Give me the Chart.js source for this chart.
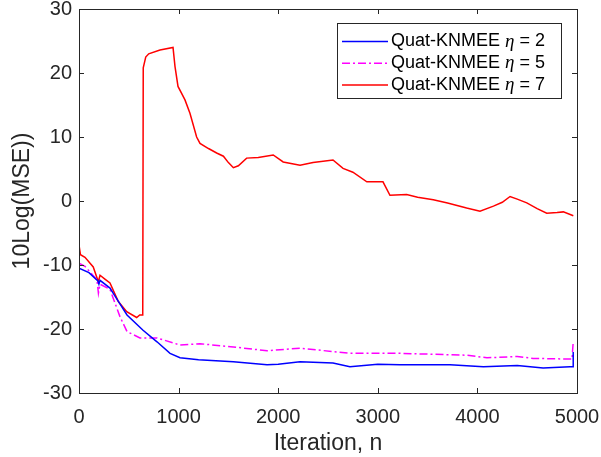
<!DOCTYPE html>
<html>
<head>
<meta charset="utf-8">
<script src="https://cdn.jsdelivr.net/npm/chart.js@4"></script>
<style>
  html, body { margin: 0; padding: 0; background: #fff; }
  #wrap { width: 601px; height: 457px; }
</style>
</head>
<body>
<div id="wrap"><canvas id="myChart" width="601" height="457"></canvas></div>
<script>
// values (iteration, 10log(MSE))
const iterEta2 = [0, 100, 190, 200, 211, 311, 400, 482, 643, 783, 914, 1014, 1200, 1550, 1888, 2000, 2219, 2550, 2720, 3000, 3223, 3725, 4060, 4400, 4660, 4930, 4960, 4962];
const mseEta2  = [-10.5, -11.2, -12.5, -13.0, -12.4, -13.6, -15.8, -17.8, -20.2, -22.0, -23.8, -24.5, -24.8, -25.1, -25.6, -25.5, -25.1, -25.3, -25.9, -25.5, -25.6, -25.6, -25.9, -25.7, -26.1, -25.9, -25.9, -23.6];

const iterEta5 = [0, 60, 180, 195, 211, 311, 412, 482, 612, 783, 1014, 1215, 1550, 1888, 2219, 2720, 3223, 3892, 4096, 4400, 4560, 4950, 4962];
const mseEta5  = [-9.7, -10.2, -12.3, -14.4, -13.0, -13.8, -18.1, -20.4, -21.4, -21.4, -22.5, -22.3, -22.8, -23.4, -23.0, -23.8, -23.8, -24.1, -24.5, -24.3, -24.6, -24.7, -22.0];

const iterEta7 = [0, 15, 60, 143, 194, 211, 260, 311, 395, 479, 579, 610, 640, 645, 670, 700, 813, 944, 964, 994, 1064, 1114, 1181, 1215, 1300, 1382, 1450, 1500, 1550, 1600, 1683, 1800, 1950, 2050, 2219, 2350, 2550, 2651, 2750, 2890, 3052, 3122, 3290, 3400, 3557, 3700, 3892, 4026, 4161, 4250, 4328, 4400, 4496, 4600, 4696, 4800, 4863, 4963];
const mseEta7  = [-6.9, -8.4, -8.8, -10.3, -12.6, -11.6, -12.2, -12.8, -15.7, -17.3, -18.2, -17.8, -17.8, 20.8, 22.5, 23.0, 23.6, 24.0, 21.0, 17.9, 15.8, 13.7, 10.0, 9.0, 8.2, 7.5, 7.0, 6.0, 5.2, 5.5, 6.7, 6.8, 7.2, 6.1, 5.6, 6.0, 6.4, 5.1, 4.5, 3.0, 3.0, 0.9, 1.0, 0.6, 0.2, -0.3, -1.1, -1.6, -0.8, -0.2, 0.7, 0.3, -0.3, -1.2, -1.9, -1.8, -1.7, -2.3];

const seriesNames = ['Quat-KNMEE', 'Quat-KNMEE', 'Quat-KNMEE'];
const etaValues = ['2', '5', '7'];
const seriesColors = ['#0000ff', '#ff00ff', '#ff0000'];
const seriesDash = [[], [8, 3, 2, 3], []];

const xTicks = [0, 1000, 2000, 3000, 4000, 5000];
const yTicks = [-30, -20, -10, 0, 10, 20, 30];

const axisColor = '#262626';
const fontFam = '"Liberation Sans", Arial, sans-serif';

function pairs(xs, ys) {
  return xs.map(function(x, i) { return {x: x, y: ys[i]}; });
}

// inward ticks on all four sides + box + legend, MATLAB style
const boxPlugin = {
  id: 'box',
  afterDraw: function(chart) {
    const c = chart.ctx;
    const a = chart.chartArea;
    const xs = chart.scales.x;
    const ys = chart.scales.y;
    c.save();
    c.strokeStyle = axisColor;
    c.lineWidth = 1;
    c.strokeRect(a.left + 0.5, a.top + 0.5, a.right - a.left, a.bottom - a.top);
    c.beginPath();
    xTicks.forEach(function(v) {
      const px = Math.round(xs.getPixelForValue(v)) + 0.5;
      c.moveTo(px, a.bottom); c.lineTo(px, a.bottom - 5);
      c.moveTo(px, a.top); c.lineTo(px, a.top + 5);
    });
    yTicks.forEach(function(v) {
      const py = Math.round(ys.getPixelForValue(v)) + 0.5;
      c.moveTo(a.left, py); c.lineTo(a.left + 5, py);
      c.moveTo(a.right, py); c.lineTo(a.right - 5, py);
    });
    c.stroke();

    // legend box
    const lx = 337, ly = 23, lw = 224, lh = 75;
    c.fillStyle = '#fff';
    c.fillRect(lx, ly, lw, lh);
    c.strokeStyle = axisColor;
    c.strokeRect(lx + 0.5, ly + 0.5, lw, lh);
    for (let i = 0; i < seriesNames.length; i++) {
      const y = 41.5 + i * 21.7;
      c.strokeStyle = seriesColors[i];
      c.lineWidth = 1.5;
      c.setLineDash(seriesDash[i]);
      c.beginPath();
      c.moveTo(342, y); c.lineTo(388, y);
      c.stroke();
      c.setLineDash([]);
      c.fillStyle = '#000';
      c.textBaseline = 'middle';
      c.font = '18px ' + fontFam;
      let tx = 391;
      const t1 = seriesNames[i] + ' ';
      c.fillText(t1, tx, y);
      tx += c.measureText(t1).width;
      c.font = 'italic 19px "Liberation Serif", "Times New Roman", serif';
      c.fillText('\u03b7', tx, y);
      tx += c.measureText('\u03b7').width;
      c.font = '18px ' + fontFam;
      c.fillText(' = ' + etaValues[i], tx, y);
    }
    c.restore();
  }
};

function noPad(s) {
  s.paddingTop = 0; s.paddingBottom = 0; s.paddingLeft = 0; s.paddingRight = 0;
}

const ctx = document.getElementById('myChart');

new Chart(ctx, {
  type: 'line',
  data: {
    datasets: [
      { label: 'eta2', data: pairs(iterEta2, mseEta2), borderColor: seriesColors[0], borderDash: seriesDash[0] },
      { label: 'eta5', data: pairs(iterEta5, mseEta5), borderColor: seriesColors[1], borderDash: seriesDash[1] },
      { label: 'eta7', data: pairs(iterEta7, mseEta7), borderColor: seriesColors[2], borderDash: seriesDash[2] }
    ]
  },
  options: {
    responsive: false,
    animation: false,
    elements: {
      point: { radius: 0 },
      line: { borderWidth: 1.5, tension: 0, fill: false }
    },
    layout: { padding: { left: 0, right: 24, top: 9, bottom: 0 } },
    plugins: {
      legend: { display: false },
      tooltip: { enabled: false }
    },
    scales: {
      x: {
        type: 'linear',
        min: 0,
        max: 5000,
        afterBuildTicks: function(s) { s.ticks = xTicks.map(function(v) { return {value: v}; }); },
        afterFit: function(s) { s.height = 64; noPad(s); },
        grid: { display: false, drawTicks: false },
        border: { display: false },
        ticks: { color: axisColor, font: { size: 20, family: fontFam }, padding: 12, maxRotation: 0,
                 callback: function(v) { return String(v); } },
        title: { display: true, text: 'Iteration, n', color: axisColor, font: { size: 23, family: fontFam }, padding: { top: 0, bottom: 0 } }
      },
      y: {
        type: 'linear',
        min: -30,
        max: 30,
        afterBuildTicks: function(s) { s.ticks = yTicks.map(function(v) { return {value: v}; }); },
        afterFit: function(s) { s.width = 79; noPad(s); },
        grid: { display: false, drawTicks: false },
        border: { display: false },
        ticks: { color: axisColor, font: { size: 20, family: fontFam }, padding: 7,
                 callback: function(v) { return String(v); } },
        title: { display: true, text: '10Log(MSE))', color: axisColor, font: { size: 23, family: fontFam }, padding: { top: 9, bottom: 0 } }
      }
    }
  },
  plugins: [boxPlugin]
});
</script>
</body>
</html>
